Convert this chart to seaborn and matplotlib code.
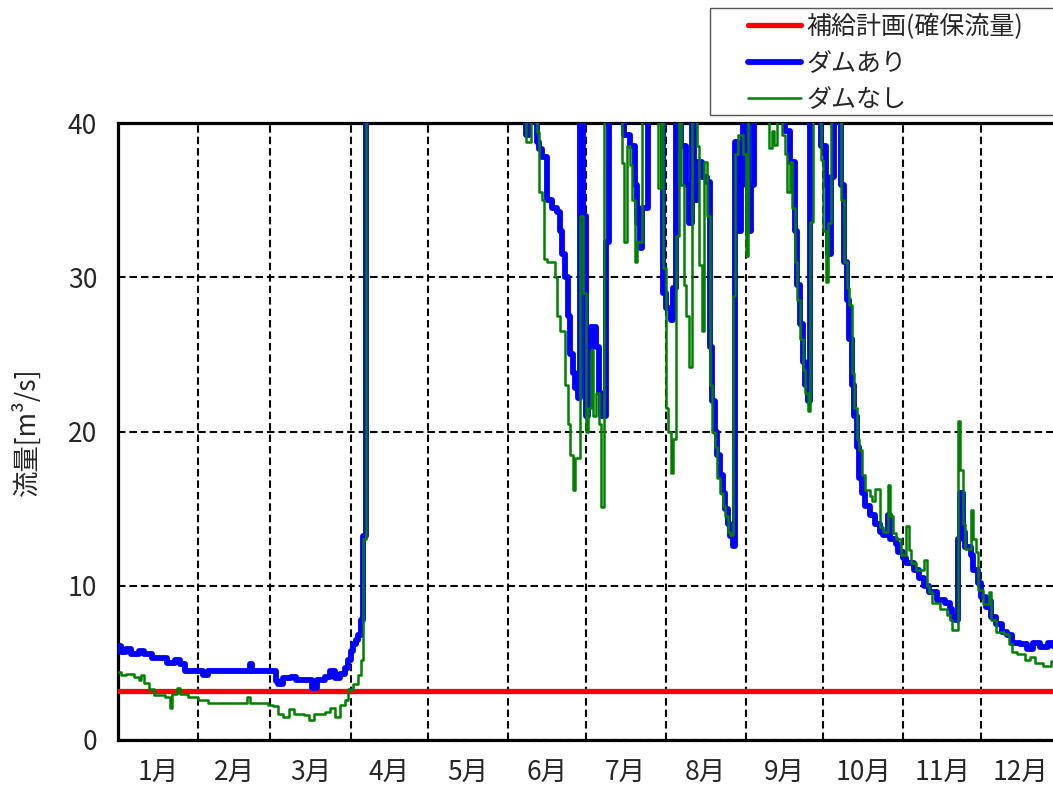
import matplotlib
matplotlib.use("Agg")
import matplotlib.pyplot as plt
import matplotlib.patches as mpatches
import seaborn as sns
import pandas as pd

# ---------------- data ----------------
month_labels = ["1月", "2月", "3月", "4月", "5月", "6月", "7月", "8月", "9月", "10月", "11月", "12月"]
month_days = [31, 28, 31, 30, 31, 30, 31, 31, 30, 31, 30, 31]
y_ticks = [0, 10, 20, 30, 40]

plan_day = [0, 365]
plan_flow = [3.2, 3.2]

# step breakpoints (day of year, flow m3/s); values above 40 are off the chart
blue_steps = [
    (0, 6.1), (1, 5.7), (3, 5.9), (5, 5.6), (8, 5.8), (10, 5.6), (13, 5.3), (19, 5.0), (22, 5.2),
    (24, 4.9), (26, 4.5), (33, 4.2), (35, 4.5), (51, 4.9), (52, 4.5), (61, 3.8), (62, 3.6), (64, 4.0),
    (67, 4.1), (69, 3.9), (75, 3.4), (77, 3.9), (80, 4.1), (82, 4.5), (84, 4.0), (86, 4.3), (88, 4.7),
    (89, 5.2), (90, 5.8), (91, 6.2), (92, 6.5), (93, 6.8), (94, 7.8), (95, 13.2), (96, 58),
    (158, 39.2), (159, 55), (162, 38.8), (163, 38.3), (164, 37.8), (166, 35.0), (168, 34.5), (170, 34.2),
    (171, 33.0), (172, 31.5), (173, 30.0), (174, 27.5), (175, 25.0), (176, 23.8), (177, 22.8), (178, 22.2),
    (179, 55), (180, 34.0), (181, 21.0), (182, 25.0), (183, 26.8), (185, 25.5), (186, 22.5), (187, 21.0),
    (189, 32.3), (190, 55), (196, 39.2), (198, 38.5), (200, 36.0), (201, 33.5), (202, 31.9), (203, 34.5),
    (205, 55), (211, 29.0), (212, 28.0), (214, 27.2), (215, 29.3), (216, 55), (218, 38.5), (220, 36.0),
    (221, 33.5), (222, 55), (223, 35.0), (224, 37.5), (226, 36.5), (228, 36.2), (229, 25.5), (230, 22.0),
    (231, 20.0), (232, 18.5), (233, 17.2), (234, 16.0), (235, 15.0), (236, 14.0), (237, 13.2), (238, 12.6),
    (239, 38.8), (240, 33.0), (241, 36.0), (242, 55), (244, 33.0), (245, 36.0), (246, 55), (258, 39.5),
    (260, 37.5), (262, 33.0), (263, 29.5), (264, 27.0), (265, 24.5), (266, 23.0), (267, 22.0), (268, 55),
    (272, 38.5), (274, 36.0), (275, 31.5), (276, 36.5), (277, 55), (280, 36.0), (281, 31.0), (282, 28.5),
    (283, 26.0), (284, 23.0), (285, 21.0), (286, 19.0), (287, 17.0), (288, 16.0), (289, 15.2), (291, 14.6),
    (293, 14.0), (295, 13.5), (296, 13.3), (298, 14.6), (299, 13.0), (301, 12.7), (302, 12.2), (304, 11.8),
    (305, 11.5), (308, 11.0), (310, 10.5), (312, 10.0), (314, 9.6), (317, 9.1), (320, 8.9), (322, 8.5),
    (323, 8.0), (324, 7.8), (325, 13.0), (326, 16.0), (327, 13.5), (328, 12.5), (330, 12.0), (331, 11.0),
    (333, 10.2), (334, 9.3), (336, 8.6), (337, 9.0), (338, 8.0), (340, 7.5), (342, 7.0), (344, 6.8),
    (346, 6.3), (349, 6.2), (352, 5.9), (354, 6.3), (357, 6.0), (360, 6.3), (362, 6.1), (365, 6.1),
]

green_steps = [
    (0, 4.4), (1, 4.2), (3, 4.3), (6, 4.1), (8, 3.9), (9, 4.2), (10, 3.7), (12, 3.3), (14, 2.9), (18, 2.8),
    (20, 2.1), (21, 3.0), (23, 3.4), (24, 3.0), (27, 2.8), (31, 2.6), (35, 2.4), (50, 2.8), (51, 2.4),
    (58, 2.3), (60, 2.2), (62, 1.7), (64, 1.5), (66, 2.0), (68, 1.7), (72, 1.6), (74, 1.3), (76, 1.7),
    (80, 1.8), (82, 2.1), (84, 1.5), (86, 2.3), (88, 2.6), (89, 3.3), (91, 3.6), (93, 4.2), (94, 5.2),
    (95, 13.0), (96, 60),
    (158, 38.8), (160, 55), (162, 39.4), (163, 35.5), (164, 35.0), (165, 31.2), (166, 31.0), (169, 30.0),
    (170, 27.5), (171, 26.5), (173, 23.0), (174, 20.5), (175, 18.5), (176, 16.2), (177, 18.3), (179, 34.0),
    (180, 29.0), (181, 20.0), (182, 21.5), (183, 25.3), (184, 21.0), (185, 22.5), (186, 20.5), (187, 15.1),
    (188, 55), (195, 37.4), (196, 32.3), (197, 38.5), (198, 37.3), (199, 35.0), (200, 31.0), (201, 32.3),
    (203, 55), (209, 35.8), (210, 55), (211, 30.6), (212, 21.5), (213, 20.0), (214, 17.3), (215, 19.5),
    (216, 32.7), (217, 55), (218, 36.0), (219, 29.5), (220, 27.5), (221, 24.2), (222, 55), (224, 38.5),
    (225, 30.8), (226, 26.5), (227, 37.5), (228, 34.0), (229, 23.0), (230, 20.0), (231, 19.0), (232, 17.0),
    (233, 16.0), (234, 15.2), (235, 14.5), (236, 13.5), (237, 13.3), (238, 28.8), (239, 38.0), (240, 39.2),
    (242, 38.0), (243, 31.4), (244, 55), (252, 38.4), (253, 39.5), (254, 38.6), (255, 55), (257, 39.2),
    (258, 38.0), (259, 35.5), (260, 37.5), (261, 34.5), (262, 31.0), (263, 28.5), (264, 26.0), (265, 24.0),
    (266, 22.5), (267, 21.3), (268, 33.6), (269, 55), (272, 37.6), (273, 33.0), (274, 29.7), (275, 33.5),
    (276, 55), (280, 35.0), (281, 31.0), (282, 29.3), (283, 28.2), (284, 23.8), (285, 21.5), (286, 19.5),
    (287, 18.8), (288, 17.2), (289, 16.2), (291, 15.8), (292, 15.5), (293, 16.3), (295, 13.8), (296, 13.5),
    (298, 16.5), (299, 14.5), (300, 13.4), (301, 13.0), (303, 12.0), (305, 13.9), (306, 12.3), (307, 11.5),
    (309, 11.0), (312, 11.7), (313, 10.0), (314, 9.6), (315, 8.9), (318, 8.5), (321, 8.1), (322, 7.8),
    (323, 7.1), (325, 20.7), (326, 17.5), (327, 14.0), (328, 12.4), (330, 14.9), (331, 13.0), (332, 12.2),
    (333, 9.7), (335, 8.8), (337, 9.6), (338, 7.8), (340, 7.0), (343, 6.9), (345, 6.2), (346, 5.7),
    (348, 5.6), (351, 5.2), (353, 5.4), (355, 5.0), (358, 4.8), (361, 5.1), (363, 4.8), (365, 4.8),
]

blue_day = [d for d, _ in blue_steps]
blue_flow = [v for _, v in blue_steps]
green_day = [d for d, _ in green_steps]
green_flow = [v for _, v in green_steps]

# ---------------- style ----------------
sns.set_style("white")
plt.rcParams["font.family"] = ["Noto Sans CJK JP", "DejaVu Sans"]
FS_TICK = 19
FS_LEG = 18
FS_LAB = 19

W, H = 1053, 794
fig = plt.figure(figsize=(W / 100, H / 100), dpi=100)
ax = fig.add_axes([118 / W, 54 / H, 943 / W, 617 / H])

plan_df = pd.DataFrame({"day": plan_day, "flow": plan_flow})
blue_df = pd.DataFrame({"day": blue_day, "flow": blue_flow})
green_df = pd.DataFrame({"day": green_day, "flow": green_flow})

sns.lineplot(data=plan_df, x="day", y="flow", ax=ax, color="#FF0000", linewidth=3.8,
             label="補給計画(確保流量)", zorder=3)
sns.lineplot(data=blue_df, x="day", y="flow", ax=ax, color="#0000FF", linewidth=4.2,
             drawstyle="steps-post", label="ダムあり", zorder=4, estimator=None)
sns.lineplot(data=green_df, x="day", y="flow", ax=ax, color="#008000", linewidth=1.8,
             drawstyle="steps-post", label="ダムなし", zorder=5, estimator=None)

ax.set_xlim(0, 365)
ax.set_ylim(0, 40)

bounds = [0]
for n in month_days:
    bounds.append(bounds[-1] + n)
centers = [(bounds[i] + bounds[i + 1]) / 2 for i in range(12)]

ax.set_xticks(bounds[1:-1])
ax.set_xticklabels([])
ax.set_xticks(centers, minor=True)
ax.set_xticklabels(month_labels, minor=True, fontsize=FS_TICK)
ax.set_yticks(y_ticks)
ax.set_yticklabels([str(v) for v in y_ticks], fontsize=FS_TICK)
ax.tick_params(axis="both", which="both", length=0)
ax.tick_params(axis="y", pad=15)
ax.tick_params(axis="x", which="minor", pad=14)

ax.set_axisbelow(True)
ax.grid(True, which="major", color="black", linewidth=1.5, linestyle=(0, (3.6, 1.9)))

for side in ["left", "bottom", "top", "right"]:
    ax.spines[side].set_color("black")
    ax.spines[side].set_linewidth(2.3)

ax.set_xlabel("")
ax.set_ylabel("流量[m³/s]", fontsize=FS_LAB)
ax.yaxis.set_label_coords(-0.082, 0.5)

# legend (outside, top right) with its own frame
handles, labels = ax.get_legend_handles_labels()
ax.get_legend().remove()
leg = fig.legend(handles, labels, loc="upper left", bbox_to_anchor=(748 / W, 1 - 14 / H),
                 frameon=False, fontsize=FS_LEG, handlelength=2.1, handletextpad=0.25,
                 labelspacing=0.42, borderpad=0, borderaxespad=0)
fig.add_artist(mpatches.Rectangle((710 / W, 1 - 115 / H), 360 / W, 107 / H,
                                  transform=fig.transFigure, fill=False,
                                  edgecolor="#555555", linewidth=1.0))

fig.savefig("out.png", dpi=100)
